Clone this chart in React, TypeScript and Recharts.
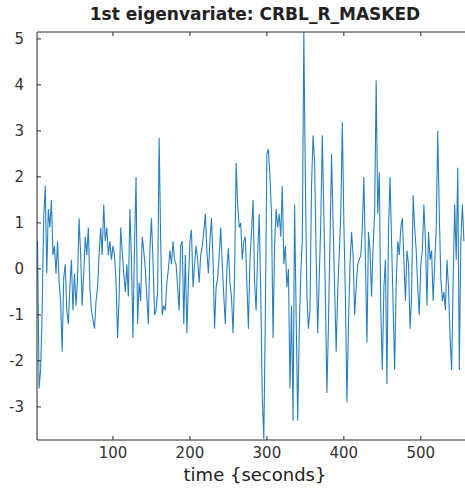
import { LineChart, Line, XAxis, YAxis } from "recharts";

// eigenvariate samples, TR = 2 s, starting at t = 2 s
const eigenvariate = [
  0.6, -2.6, -2.2, -0.9, 1.1, 1.8, -0.1, 1.3, 0.9, 1.5,
  0.3, 0.5, -0.1, 0.6, -0.3, -0.7, -1.8, -0.2, 0.1, -0.9,
  -1.2, -0.4, 0.2, -0.9, -0.1, -0.8, -0.2, 1.1, 0.3, -0.8,
  -0.1, 0.7, 0.3, 0.9, -0.4, -0.9, -1.1, -1.3, -0.7, -0.4,
  0.3, 0.9, 0.3, 1.4, 0.6, 0.9, 0.3, 0.6, 0.2, 0.5,
  0.3, -0.3, -1.5, -0.6, 0.9, 0.4, -0.1, -0.5, 0.1, -0.6,
  1.3, 0.2, -1.5, 0.5, 2.0, -1.2, -0.3, -0.7, 0.7, 0.4,
  0.0, -0.6, -1.2, 0.4, 1.1, 0.2, -1.0, -0.9, -0.5, 2.85,
  0.6, -1.0, -0.8, -0.9, -0.3, 0.0, 0.4, 0.1, 0.6, 0.2,
  0.1, -0.4, -0.9, 0.5, 0.6, -1.2, 0.3, -1.4, -0.3, 0.6,
  0.85, -0.4, 0.1, 0.5, 0.2, -0.3, 0.3, 0.5, 0.8, 1.2,
  0.4, -0.1, 0.6, 1.1, 0.2, -1.3, -0.4, -0.2, 0.3, 0.9,
  0.1, -0.6, -1.2, 0.0, 0.45, -0.3, -0.6, -1.4, -0.2, 2.3,
  1.4, 0.9, 1.0, 0.2, 0.6, 0.7, -0.3, -1.3, 0.2, 0.8,
  1.5, -0.3, -0.9, 0.3, 1.2, -0.5, -2.8, -3.7, -1.0, 2.5,
  2.6, 2.0, 1.2, -1.5, 0.5, 1.3, 0.9, 1.2, 0.7, 1.8,
  0.1, 0.5, -0.4, 0.0, -2.6, -0.8, -3.3, 1.4, -1.0, -3.3,
  -1.4, -0.1, 0.6, 5.15, 1.9, -0.6, -1.3, -0.9, 1.8, 2.9,
  2.3, 0.3, -1.4, -0.2, 1.0, 2.9, 1.2, -0.6, -2.7, -1.2,
  0.6, 2.5, 1.0, -0.4, -1.8, -0.5, 0.3, 1.2, 3.2, 1.0,
  -0.6, -2.9, -1.2, 0.1, 0.8, 0.3, -1.0, -0.4, 0.1, 0.2,
  0.3, 0.9, 2.0, 0.2, -1.6, 0.8, 0.4, -0.6, 0.5, 1.2,
  4.1, 1.2, 2.1, -0.9, -2.2, -0.4, 0.2, -2.5, 0.8, 2.0,
  0.6, -0.8, -2.2, -0.3, 0.6, 0.3, 0.9, 1.1, 0.2, -0.7,
  0.4, 0.1, -1.3, -0.6, 1.6, 0.9, 0.4, -0.4, -1.0, 0.1,
  0.4, 1.4, 0.6, -0.8, 0.8, 0.2, 0.4, -0.7, 0.1, 0.9,
  3.0, 1.2, -0.2, -0.7, -0.5, -0.9, 0.2, -0.4, -1.5, -2.2,
  -0.3, 1.4, 0.2, 2.2, -2.2, 0.6, 1.4, 0.6,
];

const xTicks = [100, 200, 300, 400, 500];
const yTicks = [-3, -2, -1, 0, 1, 2, 3, 4, 5];

const data = eigenvariate.map((v, i) => ({ t: 2 + 2 * i, v }));

const FONT = "'DejaVu Sans', sans-serif";
const AXIS = "#262626";
const TEXT = "#333";

// MATLAB style: tick marks point into the axes
const BottomTick = (props: any) => {
  const { x, y, payload } = props;
  return (
    <g>
      <line x1={x} x2={x} y1={y} y2={y - 4} stroke={AXIS} />
      <text x={x} y={y + 18} textAnchor="middle" fill={TEXT} fontSize={15} fontFamily={FONT}>
        {payload.value}
      </text>
    </g>
  );
};

const TopTick = (props: any) => {
  const { x, y } = props;
  return <line x1={x} x2={x} y1={y} y2={y + 4} stroke={AXIS} />;
};

const LeftTick = (props: any) => {
  const { x, y, payload } = props;
  return (
    <g>
      <line x1={x} x2={x + 4} y1={y} y2={y} stroke={AXIS} />
      <text x={x - 13} y={y + 5} textAnchor="end" fill={TEXT} fontSize={15} fontFamily={FONT}>
        {payload.value}
      </text>
    </g>
  );
};

export default function App() {
  return (
    <div style={{ position: "absolute", left: 0, top: 0, width: 465, height: 490, overflow: "hidden", background: "#fff" }}>
      <div
        style={{
          position: "absolute",
          left: 0,
          width: 510,
          top: 4,
          textAlign: "center",
          fontFamily: FONT,
          fontWeight: "bold",
          fontSize: 17,
          color: "#222",
        }}
      >
        1st eigenvariate: CRBL_R_MASKED
      </div>
      <LineChart width={480} height={490} data={data} margin={{ top: 31, right: 13, bottom: 0, left: 0 }}>
        <XAxis
          dataKey="t"
          type="number"
          domain={[1.3, 560]}
          ticks={xTicks}
          tickSize={0}
          tickMargin={0}
          tickLine={false}
          height={50}
          tick={<BottomTick />}
          axisLine={{ stroke: AXIS }}
        />
        <XAxis
          xAxisId="top"
          orientation="top"
          dataKey="t"
          type="number"
          domain={[1.3, 560]}
          ticks={xTicks}
          tickSize={0}
          tickMargin={0}
          tickLine={false}
          height={1}
          tick={<TopTick />}
          axisLine={{ stroke: AXIS }}
        />
        <YAxis
          type="number"
          domain={[-3.72, 5.15]}
          allowDataOverflow
          ticks={yTicks}
          width={37}
          tickSize={0}
          tickMargin={0}
          tickLine={false}
          tick={<LeftTick />}
          axisLine={{ stroke: AXIS }}
        />
        <Line
          type="linear"
          dataKey="v"
          stroke="#2A80BF"
          strokeWidth={1.1}
          dot={false}
          isAnimationActive={false}
        />
      </LineChart>
      <div
        style={{
          position: "absolute",
          left: 0,
          width: 510,
          top: 464,
          textAlign: "center",
          fontFamily: FONT,
          fontSize: 18,
          color: "#222",
        }}
      >
        time {"{"}seconds{"}"}
      </div>
    </div>
  );
}
